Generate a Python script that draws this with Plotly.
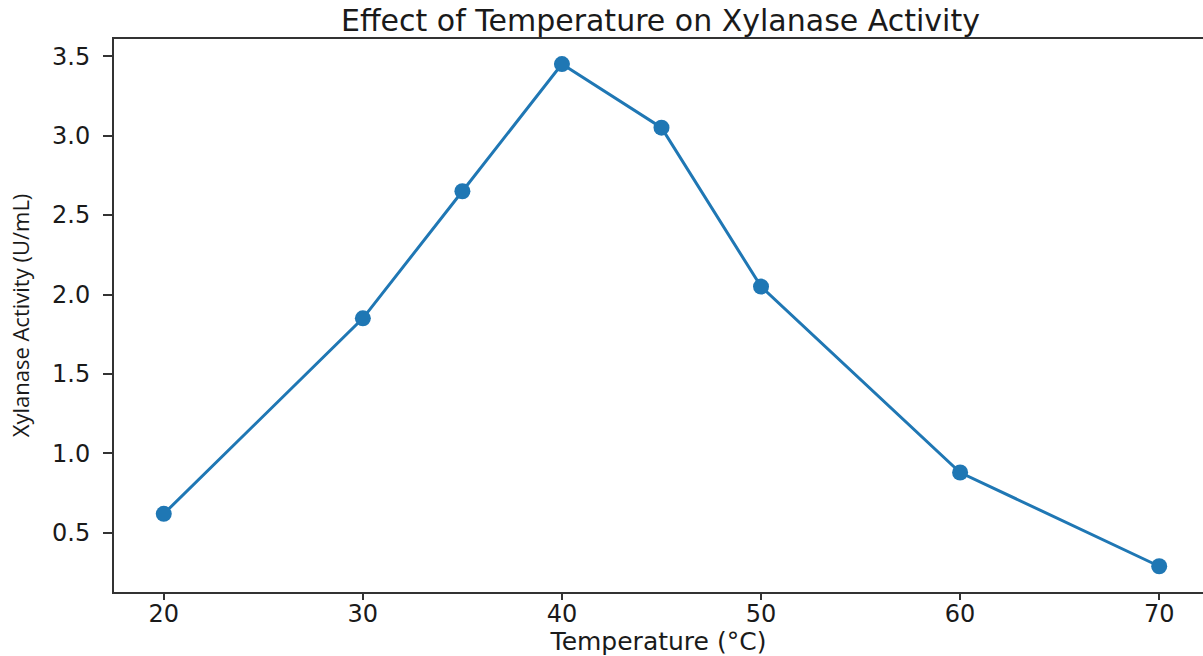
import plotly.graph_objects as go

temperature = [20, 30, 35, 40, 45, 50, 60, 70]
activity = [0.62, 1.85, 2.65, 3.45, 3.05, 2.05, 0.88, 0.29]
x_ticks = [20, 30, 40, 50, 60, 70]
y_ticks = [0.5, 1.0, 1.5, 2.0, 2.5, 3.0, 3.5]

fig = go.Figure()
fig.add_trace(go.Scatter(
    x=temperature, y=activity, mode="lines+markers",
    line=dict(color="#1f77b4", width=3),
    marker=dict(color="#1f77b4", size=16),
    showlegend=False,
))

tickfont = dict(family="DejaVu Sans", size=24, color="#1a1a1a")
fig.update_layout(
    width=1203, height=656,
    margin=dict(l=114, r=0, t=39, b=64, autoexpand=False),
    paper_bgcolor="white", plot_bgcolor="white",
    title=dict(text="Effect of Temperature on Xylanase Activity",
               font=dict(family="DejaVu Sans", size=30, color="#1a1a1a"),
               x=0.549, xanchor="center", y=0.969, yanchor="middle"),
    xaxis=dict(range=[17.5, 72.2], tickvals=x_ticks, ticktext=[str(v) for v in x_ticks],
               showgrid=False, zeroline=False, showline=True, linecolor="#333333", linewidth=2,
               mirror=True, ticks="outside", ticklen=6, tickwidth=2, tickcolor="#333333",
               tickfont=tickfont, ticklabelstandoff=-7, automargin=False,
               title=dict(text="Temperature (°C)", font=dict(family="DejaVu Sans", size=25, color="#1a1a1a"), standoff=2)),
    yaxis=dict(range=[0.128, 3.608], tickvals=y_ticks, ticktext=[f"{v:.1f}" for v in y_ticks],
               showgrid=False, zeroline=False, showline=True, linecolor="#333333", linewidth=2,
               mirror=False, ticks="outside", ticklen=9, tickwidth=2, tickcolor="#333333",
               tickfont=tickfont, ticklabelstandoff=8, automargin=False,
               title=dict(text="Xylanase Activity (U/mL)", font=dict(family="Open Sans", size=22, color="#1a1a1a"), standoff=16)),
)

fig.write_html("out.html", config={"displayModeBar": False},
               post_script="document.body.style.margin='0';document.body.style.overflow='hidden';")
